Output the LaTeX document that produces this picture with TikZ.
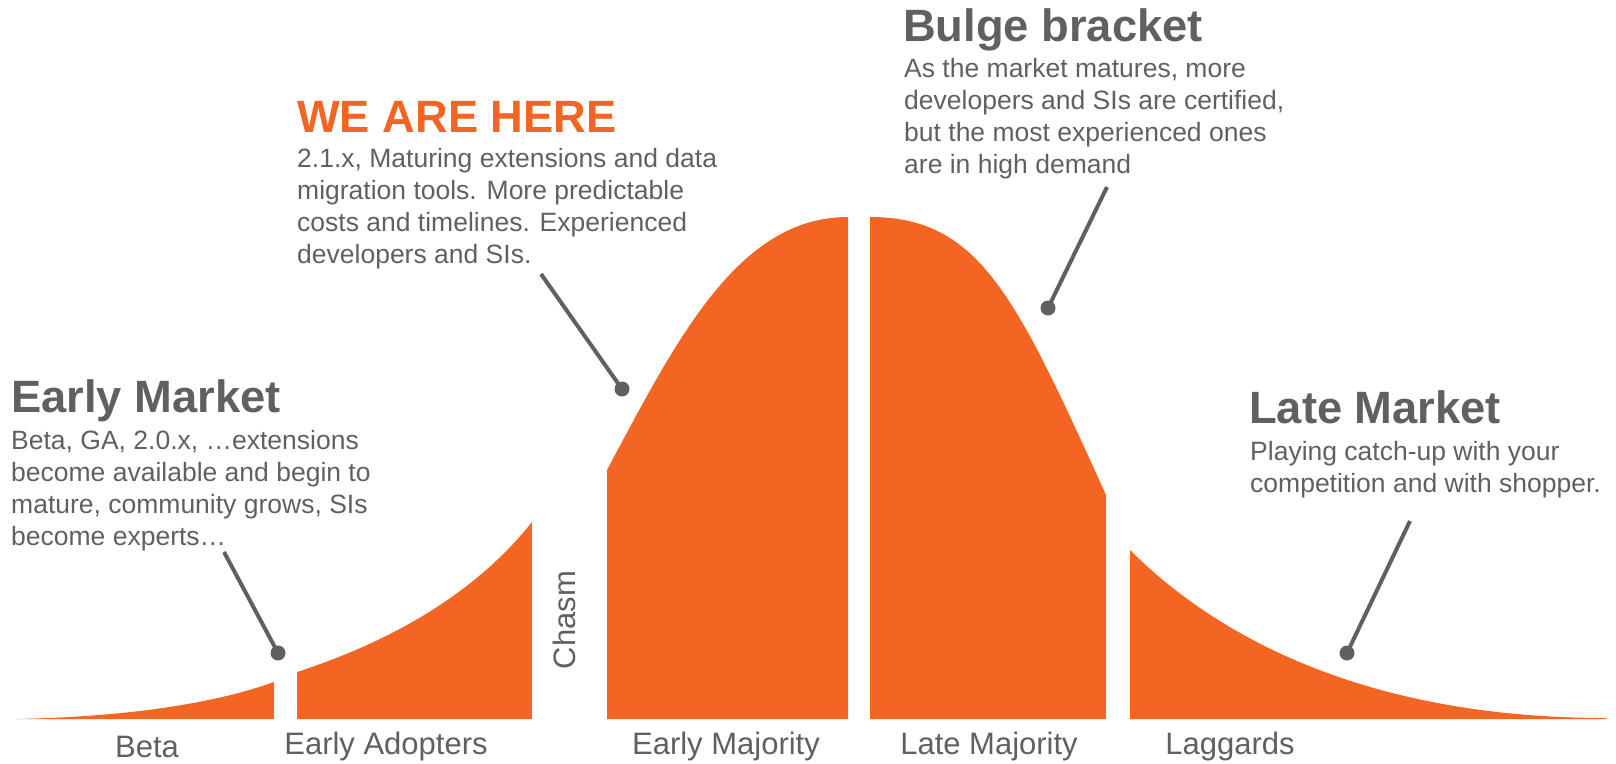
\documentclass[tikz,border=0pt]{standalone}
\usepackage{fontspec}
\setmainfont{Liberation Sans}
\definecolor{orng}{HTML}{F26522}
\definecolor{txtgray}{HTML}{5F6062}
\begin{document}
\begin{tikzpicture}[x=1pt,y=-1pt,
  title/.style={anchor=base west,inner sep=0pt,text=txtgray,font=\fontsize{45.3}{54}\selectfont\bfseries},
  body/.style={anchor=base west,inner sep=0pt,text=txtgray,font=\fontsize{26.5}{32}\selectfont},
  seglabel/.style={anchor=base,inner sep=0pt,text=txtgray,font=\fontsize{31}{37}\selectfont},
  dotnode/.style={circle,fill=txtgray,inner sep=0pt,minimum size=15pt},
  conn/.style={draw=txtgray,line width=4pt},
  piece/.style={fill=orng}]
\useasboundingbox (0,0) rectangle (1616,763);

% adoption curve, cut into five segments
\fill[piece] (16,719) .. controls (120,717) and (210,705) .. (274,682) -- (274,719) -- cycle;
\fill[piece] (297,672) .. controls (380,645) and (470,600) .. (532,522) -- (532,719) -- (297,719) -- cycle;
\fill[piece] (607,470) .. controls (677,339) and (738,217) .. (848,217) -- (848,719) -- (607,719) -- cycle;
\fill[piece] (870,217) .. controls (980,217) and (1016,297) .. (1106,495) -- (1106,719) -- (870,719) -- cycle;
\fill[piece] (1130,550) .. controls (1210,630) and (1356,718) .. (1606,718) -- (1606,719) -- (1130,719) -- cycle;

% segment labels
\node[seglabel] (lbeta) at (147,757) {Beta};
\node[seglabel] (lea) at (386,754) {Early Adopters};
\node[seglabel] (lem) at (726,754) {Early Majority};
\node[seglabel] (llm) at (989,754) {Late Majority};
\node[seglabel] (llag) at (1230,754) {Laggards};
\node[seglabel,rotate=90] (lchasm) at (575,620) {Chasm};

% Early Market
\node[title] (emt) at (11,412) {Early Market};
\node[body] (em1) at (11,449) {Beta, GA, 2.0.x, …extensions};
\node[body] (em2) at (11,481) {become available and begin to};
\node[body] (em3) at (11,513) {mature, community grows, SIs};
\node[body] (em4) at (11,545) {become experts…};

% We are here
\node[title,text=orng] (wht) at (297,132) {WE ARE HERE};
\node[body] (wh1) at (297,167) {2.1.x, Maturing extensions and data};
\node[body] (wh2) at (297,199) {migration tools. More predictable};
\node[body] (wh3) at (297,231) {costs and timelines. Experienced};
\node[body] (wh4) at (297,263) {developers and SIs.};

% Bulge bracket
\node[title] (bbt) at (903,41) {Bulge bracket};
\node[body] (bb1) at (904,77) {As the market matures, more};
\node[body] (bb2) at (904,109) {developers and SIs are certified,};
\node[body] (bb3) at (904,141) {but the most experienced ones};
\node[body] (bb4) at (904,173) {are in high demand};

% Late Market
\node[title] (lmt) at (1249,423) {Late Market};
\node[body] (lm1) at (1250,460) {Playing catch-up with your};
\node[body] (lm2) at (1250,492) {competition and with shopper.};

% pointers
\coordinate (c1) at (224,552);
\coordinate (c2) at (541,274);
\coordinate (c3) at (1107,187);
\coordinate (c4) at (1410,521);
\node[dotnode] (d1) at (278,653) {};
\node[dotnode] (d2) at (622,389) {};
\node[dotnode] (d3) at (1048,308) {};
\node[dotnode] (d4) at (1347,653) {};
\draw[conn] (c1) -- (d1.center);
\draw[conn] (c2) -- (d2.center);
\draw[conn] (c3) -- (d3.center);
\draw[conn] (c4) -- (d4.center);
\end{tikzpicture}
\end{document}
